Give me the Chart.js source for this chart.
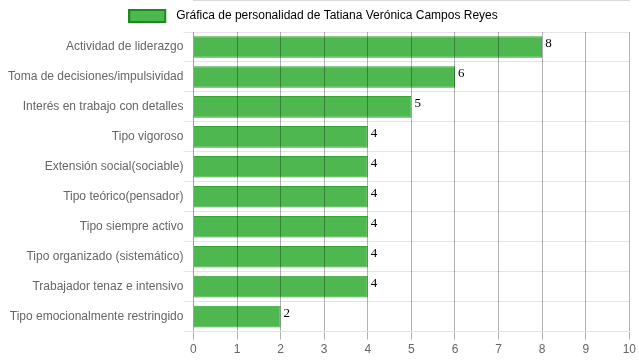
<!DOCTYPE html>
<html>
<head>
<meta charset="utf-8">
<script src="https://cdn.jsdelivr.net/npm/chart.js@4"></script>
<style>
html,body{margin:0;padding:0;background:#fff;}
#wrap{width:639px;height:360px;}
</style>
</head>
<body>
<div id="wrap"><canvas id="c" width="639" height="360"></canvas></div>
<script>
const categories = [
  "Actividad de liderazgo",
  "Toma de decisiones/impulsividad",
  "Interés en trabajo con detalles",
  "Tipo vigoroso",
  "Extensión social(sociable)",
  "Tipo teórico(pensador)",
  "Tipo siempre activo",
  "Tipo organizado (sistemático)",
  "Trabajador tenaz e intensivo",
  "Tipo emocionalmente restringido"
];
const values = [8, 6, 5, 4, 4, 4, 4, 4, 4, 2];
const seriesLabel = "Gráfica de personalidad de Tatiana Verónica Campos Reyes";
const xTicks = [0, 1, 2, 3, 4, 5, 6, 7, 8, 9, 10];

Chart.defaults.font.family = "'Liberation Sans', Arial, sans-serif";
Chart.defaults.font.size = 12;
Chart.defaults.color = "#666";

const FILL = "rgba(60,175,60,0.9)";

// legend swatch image
const swatch = document.createElement("canvas");
swatch.width = 42; swatch.height = 14;
(function () {
  const g = swatch.getContext("2d");
  g.fillStyle = FILL;
  g.fillRect(1, 1, 36, 12);
  g.strokeStyle = "#1a8a1a";
  g.lineWidth = 2;
  g.strokeRect(1, 1, 36, 12);
})();

const valueLabels = {
  id: "valueLabels",
  afterDatasetsDraw(chart) {
    const ctx = chart.ctx;
    const meta = chart.getDatasetMeta(0);
    ctx.save();
    ctx.font = "13px 'Liberation Serif', 'Times New Roman', serif";
    ctx.fillStyle = "#000";
    ctx.textAlign = "left";
    ctx.textBaseline = "top";
    meta.data.forEach((bar, i) => {
      const top = bar.y - bar.height / 2;
      ctx.fillText(String(values[i]), bar.x + 3, top + 1);
    });
    ctx.restore();
  }
};

const legendShift = {
  id: "legendShift",
  afterLayout(chart) {
    if (chart.legend) { chart.legend.left -= 7; chart.legend.right -= 7; }
  }
};

new Chart(document.getElementById("c"), {
  type: "bar",
  data: {
    labels: categories,
    datasets: [{
      label: seriesLabel,
      data: values,
      backgroundColor: FILL,
      borderColor: "rgba(50,165,50,1)",
      borderWidth: 1
    }]
  },
  options: {
    indexAxis: "y",
    responsive: false,
    animation: false,
    layout: { padding: { left: 8, right: 7 } },
    plugins: {
      legend: {
        labels: {
          usePointStyle: true,
          pointStyleWidth: 42,
          generateLabels(chart) {
            return [{
              text: seriesLabel,
              fillStyle: FILL,
              strokeStyle: "#1a8a1a",
              lineWidth: 2,
              pointStyle: swatch,
              datasetIndex: 0
            }];
          }
        }
      },
      tooltip: { enabled: false }
    },
    scales: {
      x: {
        min: 0,
        max: 10,
        afterBuildTicks(axis) { axis.ticks = xTicks.map(v => ({ value: v })); },
        grid: { color: "rgba(0,0,0,0.3)", z: 1, drawTicks: true, tickLength: 8 },
        ticks: { color: "#666" },
        border: { color: "rgba(0,0,0,0.3)" }
      },
      y: {
        grid: { color: "rgba(0,0,0,0.1)", tickLength: 10 },
        ticks: { color: "#666", padding: 0 },
        border: { color: "rgba(0,0,0,0.1)" }
      }
    }
  },
  plugins: [valueLabels, legendShift]
});
</script>
</body>
</html>
